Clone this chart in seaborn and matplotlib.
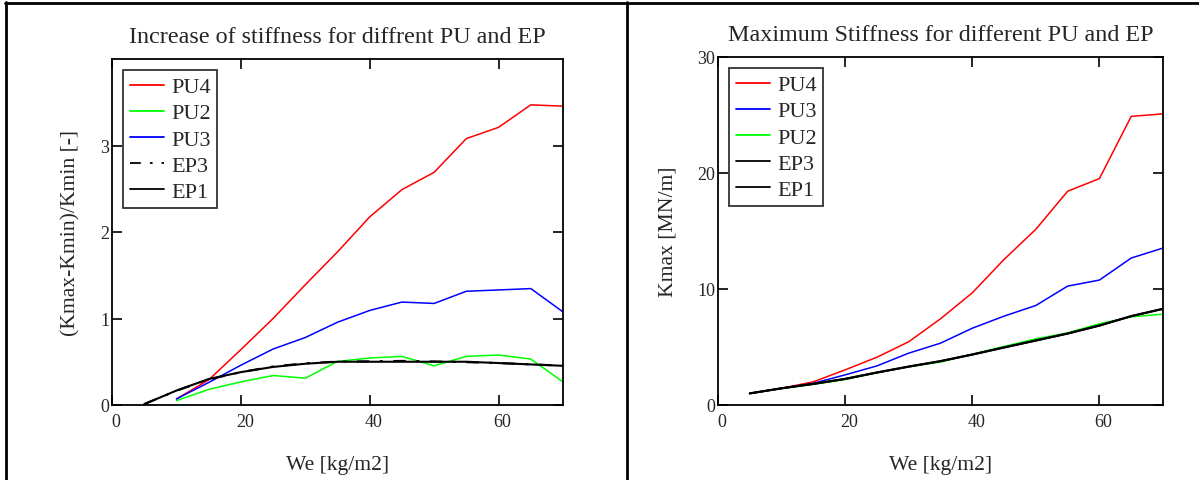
import numpy as np
import pandas as pd
import matplotlib
matplotlib.use("Agg")
import matplotlib.pyplot as plt
from matplotlib.lines import Line2D
import matplotlib.transforms as mtransforms
import seaborn as sns

# Surface weight We [kg/m2]
we = [5, 10, 15, 20, 25, 30, 35, 40, 45, 50, 55, 60, 65, 70]

# Relative stiffness increase (Kmax-Kmin)/Kmin [-]
inc_pu4 = [np.nan, 0.07, 0.29, 0.64, 1.00, 1.39, 1.77, 2.175, 2.49, 2.69, 3.08, 3.21, 3.47, 3.455]
inc_pu2 = [np.nan, 0.05, 0.18, 0.267, 0.341, 0.31, 0.504, 0.543, 0.562, 0.453, 0.562, 0.578, 0.531, 0.267]
inc_pu3 = [np.nan, 0.07, 0.26, 0.46, 0.647, 0.78, 0.957, 1.093, 1.19, 1.174, 1.315, 1.33, 1.346, 1.076]
inc_ep3 = [0.01, 0.165, 0.295, 0.38, 0.445, 0.482, 0.502, 0.505, 0.51, 0.503, 0.495, 0.485, 0.47, 0.455]
inc_ep1 = [0.01, 0.167, 0.30, 0.38, 0.44, 0.477, 0.50, 0.50, 0.50, 0.50, 0.50, 0.485, 0.469, 0.453]

# Maximum stiffness Kmax [MN/m]
kmax_pu4 = [1.0, 1.44, 2.0, 3.03, 4.12, 5.45, 7.43, 9.67, 12.55, 15.15, 18.43, 19.52, 24.88, 25.1]
kmax_pu3 = [1.0, 1.44, 1.87, 2.6, 3.37, 4.47, 5.33, 6.62, 7.66, 8.58, 10.25, 10.77, 12.67, 13.53]
kmax_pu2 = [1.0, 1.42, 1.78, 2.2, 2.78, 3.3, 3.7, 4.38, 5.05, 5.7, 6.22, 7.0, 7.6, 7.83]
kmax_ep3 = [1.0, 1.44, 1.82, 2.25, 2.8, 3.31, 3.78, 4.35, 4.96, 5.56, 6.16, 6.85, 7.66, 8.29]
kmax_ep1 = [1.0, 1.44, 1.82, 2.25, 2.8, 3.31, 3.78, 4.35, 4.96, 5.56, 6.16, 6.85, 7.66, 8.29]

left_series = [("PU4", inc_pu4), ("PU2", inc_pu2), ("PU3", inc_pu3),
               ("EP3", inc_ep3), ("EP1", inc_ep1)]
right_series = [("PU4", kmax_pu4), ("PU3", kmax_pu3), ("PU2", kmax_pu2),
                ("EP3", kmax_ep3), ("EP1", kmax_ep1)]

colors = {"PU4": "#ff0000", "PU3": "#0000ff", "PU2": "#00ff00",
          "EP3": "#000000", "EP1": "#000000"}

sns.set_theme(style="white")
plt.rcParams["font.family"] = ["Liberation Serif", "DejaVu Serif"]

fig = plt.figure(figsize=(11.99, 4.81), dpi=100)
fig.patch.set_facecolor("white")

ax1 = fig.add_axes([112 / 1199, 75 / 481, 451 / 1199, 346 / 481])
ax2 = fig.add_axes([718 / 1199, 75 / 481, 445 / 1199, 348 / 481])


def draw(ax, series, dashed_ep3):
    for name, vals in series:
        df = pd.DataFrame({"We": we, "val": vals}).dropna()
        ls = (0, (6, 5, 1.5, 5)) if (name == "EP3" and dashed_ep3) else "-"
        lw = 1.5 if name.startswith("EP") else 1.1
        sns.lineplot(data=df, x="We", y="val", ax=ax, color=colors[name],
                     linewidth=lw, linestyle=ls, label=name)


draw(ax1, left_series, True)
draw(ax2, right_series, False)

ax1.set_xlim(0, 70)
ax1.set_ylim(0, 4)
ax1.set_xticks([0, 20, 40, 60])
ax1.set_yticks([0, 1, 2, 3])
ax1.set_title("Increase of stiffness for diffrent PU and EP", fontsize=17.4, pad=12)
ax1.set_ylabel("(Kmax-Kmin)/Kmin [-]", fontsize=15.6, labelpad=14)

ax2.set_xlim(0, 70)
ax2.set_ylim(0, 30)
ax2.set_xticks([0, 20, 40, 60])
ax2.set_yticks([0, 10, 20, 30])
ax2.set_title("Maximum Stiffness for different PU and EP", fontsize=17.4, pad=12)
ax2.set_ylabel("Kmax [MN/m]", fontsize=15.6, labelpad=14)

shift = mtransforms.ScaledTranslation(4 / 100, 0, fig.dpi_scale_trans)

for ax in (ax1, ax2):
    ax.set_xlabel("We [kg/m2]", fontsize=15.6, labelpad=18)
    for s in ax.spines.values():
        s.set_visible(True)
        s.set_color("black")
        s.set_linewidth(1.3)
    ax.tick_params(axis="both", which="major", direction="in", length=7,
                   width=1.2, color="black", labelsize=13, top=True, right=True,
                   bottom=True, left=True)
    ax.tick_params(axis="x", pad=5.5)
    ax.tick_params(axis="y", pad=2)
    for lbl in ax.get_xticklabels():
        lbl.set_transform(lbl.get_transform() + shift)
    leg = ax.legend(loc="upper left", fontsize=16, frameon=True, fancybox=False,
                    borderaxespad=0.5, handlelength=1.55, handletextpad=0.3,
                    labelspacing=0.25, borderpad=0.3)
    leg.get_frame().set_edgecolor("black")
    leg.get_frame().set_linewidth(1.3)
    for h in leg.get_lines():
        h.set_linewidth(1.3)

# Page frame: top rule, left rule and panel divider
fig.add_artist(Line2D([5 / 1199, 1], [1 - 3.5 / 481, 1 - 3.5 / 481],
                      transform=fig.transFigure, color="black", linewidth=2))
fig.add_artist(Line2D([5.5 / 1199, 5.5 / 1199], [0, 1 - 3 / 481],
                      transform=fig.transFigure, color="black", linewidth=2))
fig.add_artist(Line2D([627 / 1199, 627 / 1199], [0, 1 - 3 / 481],
                      transform=fig.transFigure, color="black", linewidth=2))

fig.savefig("out.png", dpi=100, facecolor="white")
